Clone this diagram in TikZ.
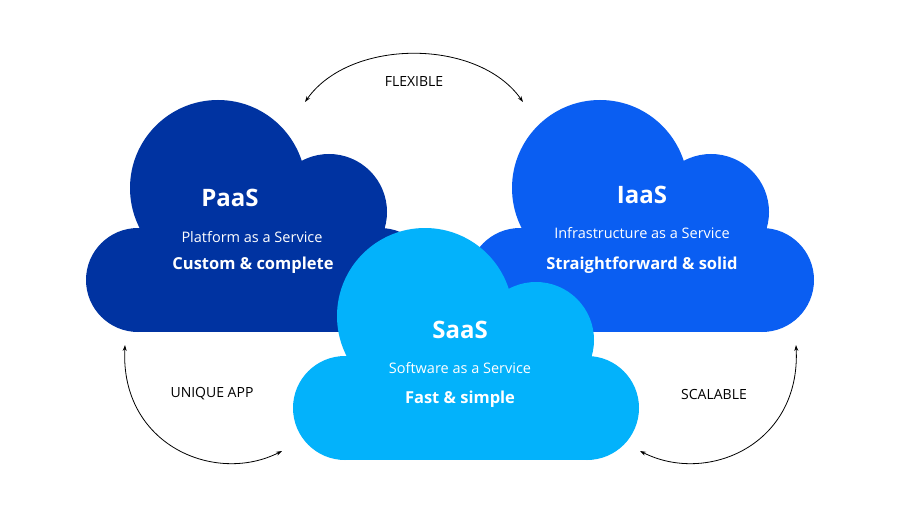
\documentclass[tikz,border=0pt]{standalone}
\usepackage{fontspec}
\setmainfont{Open Sans}
\usetikzlibrary{arrows.meta}
\definecolor{paas}{HTML}{0033A1}
\definecolor{iaas}{HTML}{0A5EF2}
\definecolor{saas}{HTML}{03B2FB}
\begin{document}
\begin{tikzpicture}[x=1pt,y=-1pt,
  ttl/.style={text=white,font=\fontsize{24}{28}\selectfont\bfseries},
  sub/.style={text=white,font=\fontsize{14.5}{17}\selectfont},
  tag/.style={text=white,font=\fontsize{16.5}{20}\selectfont\bfseries},
  lbl/.style={text=black,font=\fontsize{14}{17}\selectfont},
  arc/.style={black,line width=0.8pt,{Stealth[length=6pt,width=4pt]}-{Stealth[length=6pt,width=4pt]}}]
\fill[white] (0,0) rectangle (900,508);
\useasboundingbox (0,0) rectangle (900,508);
\newcommand{\mycloud}[3]{%
  \begin{scope}[shift={(#1,#2)}]
  \fill[#3] (138,280) circle[radius=52];
  \fill[#3] (218,188) circle[radius=88];
  \fill[#3] (329,212) circle[radius=58];
  \fill[#3] (380,280) circle[radius=52];
  \fill[#3] (138,228) rectangle (380,332);
  \end{scope}}
\mycloud{0}{0}{paas}
\mycloud{382}{0}{iaas}
\mycloud{207}{128}{saas}
\node[ttl] (pt) at (230,198) {PaaS};
\node[sub] (ps) at (252,237) {Platform as a Service};
\node[tag] (pc) at (253,265) {Custom \& complete};
\node[ttl] (it) at (642,195) {IaaS};
\node[sub] (is) at (642,233) {Infrastructure as a Service};
\node[tag] (ic) at (642,265) {Straightforward \& solid};
\node[ttl] (st) at (460,330) {SaaS};
\node[sub] (ss) at (460,368) {Software as a Service};
\node[tag] (sc) at (460,399) {Fast \& simple};
\node[lbl] (fl) at (414,82) {FLEXIBLE};
\node[lbl] (ua) at (212,394) {UNIQUE APP};
\node[lbl] (sl) at (714,394) {SCALABLE};
\coordinate (f1) at (305,102); \coordinate (f2) at (523,102);
\coordinate (u1) at (125,345); \coordinate (u2) at (282,451);
\coordinate (s1) at (796,345); \coordinate (s2) at (640,451);
\draw[arc] (f1) .. controls (350,38) and (478,38) .. (f2);
\draw[arc] (u1) .. controls (120,445) and (215,485) .. (u2);
\draw[arc] (s1) .. controls (801,445) and (707,485) .. (s2);
\end{tikzpicture}
\end{document}
